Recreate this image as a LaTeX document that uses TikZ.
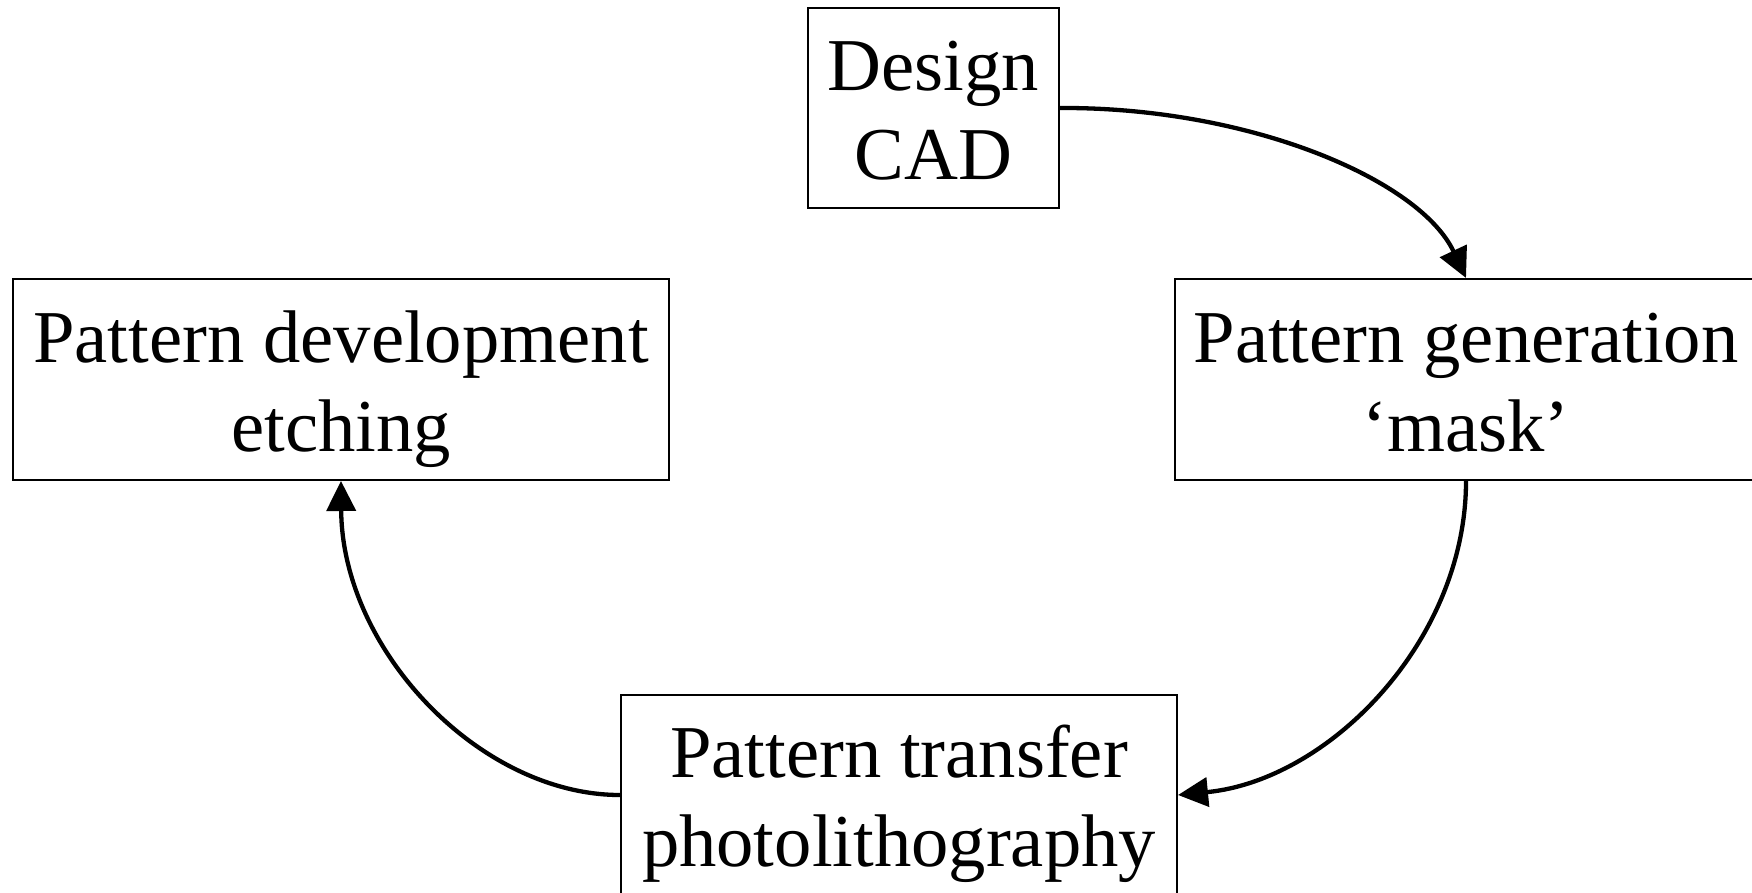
\documentclass[tikz,border=0pt]{standalone}
\usepackage{fontspec}
\setmainfont{Liberation Serif}
\usetikzlibrary{arrows.meta}
\newcommand{\lnstrut}{\rule[-17pt]{0pt}{88pt}}
\tikzset{
  stagebox/.style={draw=black, line width=2pt, fill=white, inner sep=0pt, align=center,
    font=\fontsize{74.6}{89}\selectfont},
  flow/.style={line width=4.3pt, -{Triangle[length=30pt,width=29pt]}}
}
\begin{document}
\begin{tikzpicture}[x=1pt,y=-1pt]
\useasboundingbox (0,0) rectangle (1752,893);
\node[stagebox, minimum width=251pt, minimum height=200pt] (design) at (933.5,108) {Design\lnstrut\\CAD\lnstrut};
\node[stagebox, minimum width=656pt, minimum height=201pt] (dev) at (341,379.5) {Pattern development\lnstrut\\etching\lnstrut};
\node[stagebox, minimum width=582pt, minimum height=201pt] (gen) at (1466,379.5) {Pattern generation\lnstrut\\`mask'\lnstrut};
\node[stagebox, minimum width=556pt, minimum height=200pt] (trans) at (899,795) {Pattern transfer\lnstrut\\photolithography\lnstrut};
\draw[flow] (design.east) .. controls (1250,107) and (1420,180) .. (gen.north);
\draw[flow] (gen.south) .. controls (1466,640) and (1330,780) .. (trans.east);
\draw[flow] (trans.west) .. controls (480,795) and (342,650) .. (dev.south);
\end{tikzpicture}
\end{document}
